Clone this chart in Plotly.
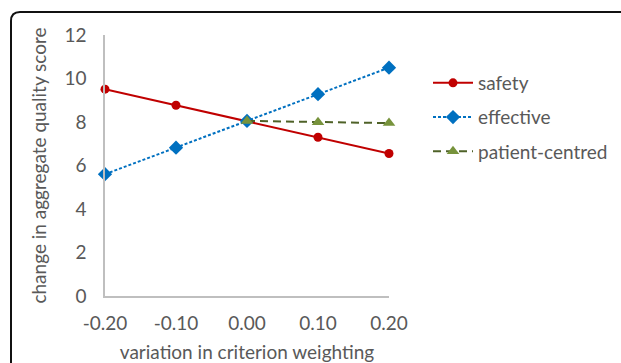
import plotly.graph_objects as go

x_vals = [-0.20, -0.10, 0.00, 0.10, 0.20]
x_labels = ["-0.20", "-0.10", "0.00", "0.10", "0.20"]
safety = [9.51, 8.77, 8.05, 7.30, 6.55]
effective = [5.60, 6.82, 8.05, 9.28, 10.50]
patient_centred = [None, None, 8.05, 7.99, 7.95]
y_ticks = [0, 2, 4, 6, 8, 10, 12]

W, H = 621, 363
L, R, T, B = 105, 232, 35, 67
pw, ph = W - L - R, H - T - B

def px(x):
    return (x - L) / pw

def py(y):
    return (H - B - y) / ph

FONT = "Lato"
GREY = "#595959"
FS = 19

fig = go.Figure()
fig.add_trace(go.Scatter(
    x=x_vals, y=safety, name="safety", mode="lines+markers",
    line=dict(color="#c00000", width=2),
    marker=dict(symbol="circle", size=9, color="#c00000"),
    cliponaxis=False, legendgroup="a"))
fig.add_trace(go.Scatter(
    x=x_vals, y=effective, name="effective", mode="lines+markers",
    line=dict(color="#0070c0", width=2, dash="3px,2px"),
    marker=dict(symbol="diamond", size=11, color="#0070c0"),
    cliponaxis=False, legendgroup="b"))
fig.add_trace(go.Scatter(
    x=x_vals, y=patient_centred, name="patient-centred", mode="lines+markers",
    line=dict(color="#4f6228", width=2, dash="8px,5px"),
    marker=dict(symbol="triangle-up", size=11, color="#77933c"),
    cliponaxis=False, legendgroup="c"))

r = 9
x0, y0 = 11, 12
border = (f"M {px(x0)},{py(H + 20)} L {px(x0)},{py(y0 + r)} "
          f"Q {px(x0)},{py(y0)} {px(x0 + r)},{py(y0)} L {px(W + 20)},{py(y0)}")

fig.update_layout(
    width=W, height=H,
    margin=dict(l=L, r=R, t=T, b=B, autoexpand=False),
    paper_bgcolor="white", plot_bgcolor="white",
    font=dict(family=FONT, size=FS, color=GREY),
    showlegend=True,
    legend=dict(x=px(428), y=py(64), xanchor="left", yanchor="top",
                bgcolor="rgba(0,0,0,0)", font=dict(family=FONT, size=FS, color=GREY),
                tracegroupgap=6.5, traceorder="grouped", itemwidth=40),
    shapes=[dict(type="path", xref="paper", yref="paper", path=border,
                 line=dict(color="#111111", width=2), layer="above")],
    xaxis=dict(range=[-0.2, 0.2], tickvals=x_vals, ticktext=x_labels,
               showgrid=False, zeroline=False, showline=True, automargin=False,
               linecolor="#bfbfbf", linewidth=1.5, ticks="",
               ticklabelstandoff=9,
               tickfont=dict(family=FONT, size=FS, color=GREY),
               title=dict(text="variation in criterion weighting", standoff=14,
                          font=dict(family=FONT, size=FS, color=GREY))),
    yaxis=dict(range=[0, 12], tickvals=y_ticks,
               showgrid=False, zeroline=False, showline=True, automargin=False,
               linecolor="#bfbfbf", linewidth=1.5, ticks="",
               ticklabelstandoff=13,
               tickfont=dict(family=FONT, size=FS, color=GREY),
               title=dict(text="change in aggregate quality score", standoff=13,
                          font=dict(family=FONT, size=FS, color=GREY))),
)

fig.write_html("out.html")
